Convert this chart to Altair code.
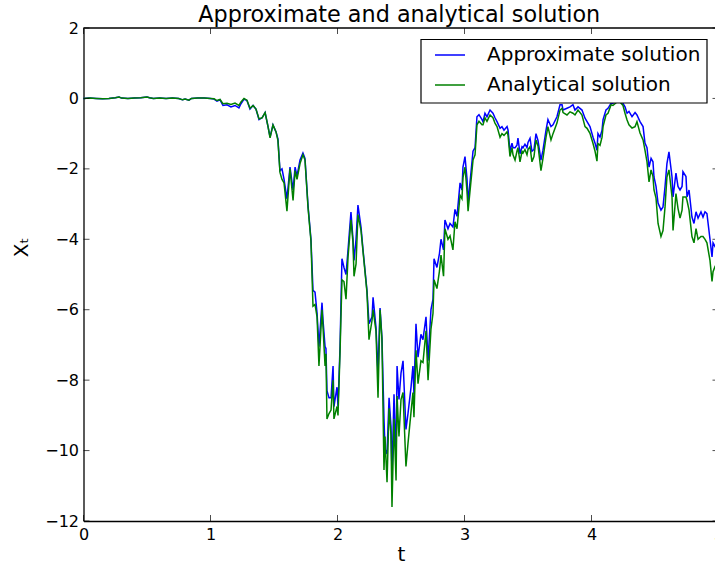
import altair as alt
import pandas as pd

# Time grid of the simulated path and the two solutions sampled on it
t = [
    0.0, 0.05, 0.1, 0.15, 0.2, 0.25, 0.28, 0.3, 0.35, 0.4, 0.45, 0.5, 0.52, 0.55,
    0.6, 0.65, 0.7, 0.75, 0.78, 0.8, 0.83, 0.85, 0.9, 0.95, 1.0,
    1.028, 1.051, 1.075, 1.098, 1.13, 1.161, 1.193, 1.224, 1.24, 1.264, 1.287,
    1.311, 1.335, 1.358, 1.382, 1.406, 1.43, 1.453, 1.469, 1.492, 1.516, 1.531,
    1.547, 1.563, 1.579, 1.602, 1.626, 1.65, 1.666, 1.681, 1.705, 1.728, 1.744,
    1.768, 1.791, 1.807, 1.823, 1.839, 1.854, 1.878, 1.886, 1.902, 1.909, 1.917,
    1.933, 1.949, 1.965, 1.972, 1.996, 2.004, 2.02, 2.035, 2.051, 2.067, 2.083,
    2.106, 2.122, 2.13, 2.146, 2.161, 2.185, 2.201, 2.232, 2.248, 2.272, 2.28,
    2.303, 2.319, 2.335, 2.35, 2.366, 2.374, 2.39, 2.406, 2.421, 2.429, 2.445,
    2.461, 2.469, 2.484, 2.5, 2.516, 2.539, 2.555, 2.579, 2.594, 2.602, 2.618,
    2.634, 2.657, 2.673, 2.697, 2.713, 2.736, 2.752, 2.76, 2.783, 2.803, 2.815,
    2.835, 2.846, 2.87, 2.886, 2.909, 2.925, 2.941, 2.965, 2.98, 2.988, 3.004,
    3.02, 3.028, 3.051, 3.067, 3.083, 3.098, 3.114, 3.138, 3.146, 3.161, 3.177,
    3.201, 3.224, 3.24, 3.256, 3.28, 3.295, 3.311, 3.335, 3.343, 3.358, 3.374,
    3.382, 3.398, 3.413, 3.421, 3.437, 3.453, 3.461, 3.476, 3.492, 3.5, 3.516,
    3.531, 3.547, 3.563, 3.579, 3.602, 3.618, 3.642, 3.657, 3.681, 3.697, 3.728,
    3.752, 3.768, 3.776, 3.807, 3.831, 3.854, 3.87, 3.894, 3.925, 3.949, 3.965,
    3.988, 4.012, 4.028, 4.043, 4.051, 4.067, 4.083, 4.091, 4.114, 4.13, 4.154,
    4.169, 4.201, 4.224, 4.248, 4.264, 4.28, 4.295, 4.319, 4.343, 4.358, 4.382,
    4.406, 4.421, 4.437, 4.453, 4.469, 4.484, 4.492, 4.508, 4.524, 4.547, 4.563,
    4.579, 4.594, 4.61, 4.634, 4.642, 4.665, 4.681, 4.697, 4.713, 4.72, 4.744,
    4.752, 4.768, 4.791, 4.807, 4.823, 4.839, 4.862, 4.878, 4.894, 4.909, 4.933,
    4.949, 4.957, 4.972, 5.0,
]

approximate = [
    0.0, 0.01, 0.0, -0.01, 0.0, 0.02, 0.04, 0.01, 0.0, 0.01, 0.02, 0.04, 0.02, 0.0,
    0.01, 0.0, 0.01, 0.0, -0.04, -0.02, -0.05, 0.0, 0.01, 0.01, 0.0,
    -0.02, -0.08, -0.04, -0.2, -0.18, -0.24, -0.2, -0.27, -0.15, -0.02, -0.06,
    -0.3, -0.2, -0.3, -0.6, -0.55, -0.4, -0.8, -1.1, -0.75, -0.95, -1.15,
    -2.05, -2.0, -2.3, -2.85, -1.95, -2.6, -1.95, -2.2, -1.75, -1.55, -1.7,
    -3.05, -4.0, -5.45, -5.5, -6.1, -7.05, -5.8, -6.3, -7.05, -7.1, -8.3,
    -8.5, -8.5, -7.6, -8.75, -8.2, -8.75, -7.05, -4.55, -4.8, -5.0, -4.3,
    -3.23, -4.0, -4.6, -4.0, -3.03, -3.65, -4.3, -5.45, -6.4, -6.2, -5.65,
    -6.5, -7.8, -5.95, -6.8, -9.1, -9.95, -10.1, -8.5, -9.3, -10.65, -8.4,
    -10.3, -7.6, -8.55, -7.8, -7.45, -9.4, -8.95, -8.2, -7.6, -8.4, -6.4,
    -7.35, -6.7, -6.85, -6.2, -7.45, -6.0, -5.7, -4.55, -4.8, -4.4, -4.0,
    -4.3, -3.45, -3.7, -3.55, -3.65, -3.15, -3.35, -2.4, -2.6, -1.95, -1.65,
    -2.3, -2.95, -2.1, -1.5, -1.4, -0.52, -0.46, -0.6, -0.66, -0.42, -0.52,
    -0.33, -0.42, -0.55, -0.66, -0.85, -0.8, -0.9, -0.8, -0.9, -1.5, -1.27,
    -1.4, -1.4, -1.33, -1.13, -1.57, -1.37, -1.4, -1.3, -1.4, -1.25, -1.13,
    -1.5, -1.45, -1.0, -1.2, -1.75, -1.47, -0.9, -0.6, -0.8, -0.75, -0.52,
    -0.18, -0.18, -0.33, -0.28, -0.24, -0.18, -0.33, -0.24, -0.33, -0.56, -0.66,
    -0.8, -1.1, -1.27, -1.47, -1.0, -1.1, -0.9, -0.6, -0.33, -0.28, -0.14,
    -0.14, -0.05, 0.0, -0.14, -0.24, -0.42, -0.37, -0.52, -0.4, -0.47, -0.66,
    -0.8, -1.27, -1.4, -1.95, -1.7, -1.8, -2.23, -2.5, -2.97, -3.17, -3.08,
    -2.5, -1.85, -1.52, -2.23, -2.8, -2.12, -2.5, -2.6, -2.5, -2.08, -2.22,
    -2.8, -2.6, -3.37, -3.55, -3.22, -3.4, -3.22, -3.37, -3.22, -3.27, -4.0,
    -4.5, -4.1, -4.2, -4.4,
]

analytical = [
    0.0, 0.01, 0.0, -0.01, 0.0, 0.02, 0.04, 0.01, 0.0, 0.01, 0.02, 0.04, 0.02, 0.0,
    0.01, 0.0, 0.01, 0.0, -0.04, -0.02, -0.05, 0.0, 0.01, 0.01, 0.0,
    -0.01, -0.06, -0.03, -0.15, -0.14, -0.17, -0.13, -0.2, -0.1, 0.0, -0.05,
    -0.28, -0.2, -0.3, -0.58, -0.55, -0.4, -0.8, -1.12, -0.75, -0.95, -1.2,
    -2.1, -2.3, -2.4, -3.2, -2.0, -2.9, -2.05, -2.3, -1.85, -1.6, -1.75,
    -3.1, -4.05, -5.9, -5.85, -6.2, -7.6, -6.0, -6.5, -7.6, -7.25, -9.1,
    -8.95, -8.85, -8.0, -9.1, -8.75, -9.0, -7.2, -5.15, -5.2, -5.7, -4.5,
    -3.45, -4.1, -5.05, -4.7, -3.3, -3.75, -4.35, -5.5, -6.85, -6.3, -6.0,
    -6.6, -8.5, -6.0, -6.85, -10.55, -9.6, -10.9, -8.8, -9.55, -11.6, -9.1,
    -10.85, -8.45, -9.6, -8.55, -8.35, -10.45, -9.8, -8.9, -8.35, -9.05, -7.15,
    -8.1, -7.45, -7.5, -6.6, -8.0, -6.55, -6.1, -5.15, -5.4, -4.9, -4.45,
    -5.05, -3.7, -4.0, -3.9, -4.3, -3.5, -3.7, -2.75, -2.85, -2.25, -1.95,
    -2.65, -3.2, -2.35, -1.75, -1.6, -0.75, -0.65, -0.75, -0.75, -0.55, -0.65,
    -0.47, -0.55, -0.7, -0.8, -1.1, -1.0, -1.05, -0.95, -1.05, -1.65, -1.4,
    -1.6, -1.75, -1.5, -1.4, -1.8, -1.5, -1.55, -1.45, -1.6, -1.45, -1.37,
    -1.8, -1.65, -1.18, -1.35, -2.05, -1.7, -1.1, -0.8, -1.18, -1.0, -0.7,
    -0.33, -0.28, -0.4, -0.47, -0.38, -0.42, -0.47, -0.33, -0.47, -0.8, -0.85,
    -0.99, -1.28, -1.5, -1.78, -1.28, -1.33, -1.1, -0.8, -0.47, -0.42, -0.18,
    -0.2, -0.1, -0.1, -0.2, -0.42, -0.61, -0.75, -0.84, -0.8, -0.66, -0.98,
    -1.18, -1.47, -1.8, -2.37, -2.03, -2.22, -2.6, -2.83, -3.55, -3.92, -3.75,
    -3.08, -2.23, -2.03, -2.8, -3.75, -2.7, -3.12, -3.4, -3.17, -2.8, -2.8,
    -2.9, -3.17, -3.92, -4.1, -3.7, -4.0, -3.92, -3.92, -4.0, -4.1, -4.6,
    -5.2, -4.92, -4.78, -4.9,
]

series_names = ["Approximate solution", "Analytical solution"]
series_colors = ["#0000ff", "#008000"]

x_ticks = [0, 1, 2, 3, 4, 5]
y_ticks = [-12, -10, -8, -6, -4, -2, 0, 2]

FONT = "DejaVu Sans"

approx_df = pd.DataFrame({"t": t, "X": approximate, "series": series_names[0]})
exact_df = pd.DataFrame({"t": t, "X": analytical, "series": series_names[1]})

# The x range runs a few pixels past the drawing width, so the right spine sits just off-page
x_scale = alt.Scale(domain=[0, 5], range=[0, 635], nice=False, zero=False)
y_scale = alt.Scale(domain=[-12, 2], nice=False, zero=False)
color_scale = alt.Scale(domain=series_names, range=series_colors)

x_enc = alt.X(
    "t:Q", scale=x_scale,
    axis=alt.Axis(
        title="t", values=x_ticks, format="d", ticks=False, tickSize=0,
        grid=False, domainColor="black", domainWidth=1.3,
        labelFont=FONT, labelFontSize=16, labelColor="black", labelPadding=5,
        labelFlush=False, labelOverlap=False,
        titleFont=FONT, titleFontSize=20, titleFontWeight="normal", titleColor="black",
        titleBaseline="alphabetic", titleY=39,
    ),
)
y_enc = alt.Y(
    "X:Q", scale=y_scale,
    axis=alt.Axis(
        title="Xₜ", values=y_ticks, format="d", ticks=False, tickSize=0,
        grid=False, domainColor="black", domainWidth=1.3,
        labelFont=FONT, labelFontSize=16, labelColor="black", labelPadding=5,
        labelFlush=False, labelOverlap=False,
        titleFont=FONT, titleFontSize=20, titleFontWeight="normal", titleColor="black",
        titleAngle=-90, titleAlign="center", titleBaseline="middle",
        titleX=-62, titleY=219,
    ),
)
color_enc = alt.Color(
    "series:N", scale=color_scale,
    legend=alt.Legend(
        title=None, orient="none", legendX=350.5, legendY=11,
        symbolType="stroke", symbolSize=900, symbolStrokeWidth=1.5,
        symbolOffset=0, labelOffset=21, padding=0, rowPadding=4,
        labelFont=FONT, labelFontSize=20, labelColor="black", labelLimit=400,
    ),
)

approx_line = alt.Chart(approx_df).mark_line(strokeWidth=1.5).encode(
    x=x_enc, y=y_enc, color=color_enc
)
exact_line = alt.Chart(exact_df).mark_line(strokeWidth=1.5).encode(
    x=x_enc, y=y_enc, color=color_enc
)

# White, black-edged backing box behind the legend entries
legend_box = alt.Chart(pd.DataFrame({"a": [0]})).mark_rect(
    fill="white", stroke="black", strokeWidth=1.2
).encode(
    x=alt.value(337.5), x2=alt.value(623.5), y=alt.value(11.5), y2=alt.value(75)
)

# Top spine
top_spine = alt.Chart(pd.DataFrame({"a": [0]})).mark_rule(color="black", strokeWidth=1.3).encode(
    x=alt.datum(0, scale=x_scale), x2=alt.datum(5), y=alt.datum(2, scale=y_scale)
)

# Inward-pointing tick marks on all four sides
xt_df = pd.DataFrame({"t": x_ticks})
yt_df = pd.DataFrame({"X": y_ticks})
tick_style = dict(color="black", thickness=1, size=6)
bottom_ticks = alt.Chart(xt_df).mark_tick(orient="vertical", yOffset=-3, **tick_style).encode(
    x=alt.X("t:Q", scale=x_scale), y=alt.datum(-12, scale=y_scale)
)
top_ticks = alt.Chart(xt_df).mark_tick(orient="vertical", yOffset=3, **tick_style).encode(
    x=alt.X("t:Q", scale=x_scale), y=alt.datum(2, scale=y_scale)
)
left_ticks = alt.Chart(yt_df).mark_tick(orient="horizontal", xOffset=3, **tick_style).encode(
    y=alt.Y("X:Q", scale=y_scale), x=alt.datum(0, scale=x_scale)
)
right_ticks = alt.Chart(yt_df).mark_tick(orient="horizontal", xOffset=-3, **tick_style).encode(
    y=alt.Y("X:Q", scale=y_scale), x=alt.datum(5, scale=x_scale)
)

chart = (
    alt.layer(
        approx_line, exact_line, legend_box, top_spine,
        bottom_ticks, top_ticks, left_ticks, right_ticks,
    )
    .properties(
        width=631.5,
        height=493,
        title=alt.TitleParams(
            "Approximate and analytical solution", font=FONT, fontSize=22.3,
            fontWeight="normal", color="black", anchor="middle",
            frame="group", baseline="bottom", offset=0, dy=29,
        ),
        autosize=alt.AutoSizeParams(type="none"),
        padding={"left": 83.5, "top": 28, "right": 0, "bottom": 46},
        background="white",
    )
    .configure_view(stroke=None)
)

chart.save("out.html", embed_options={"renderer": "svg", "actions": False})
